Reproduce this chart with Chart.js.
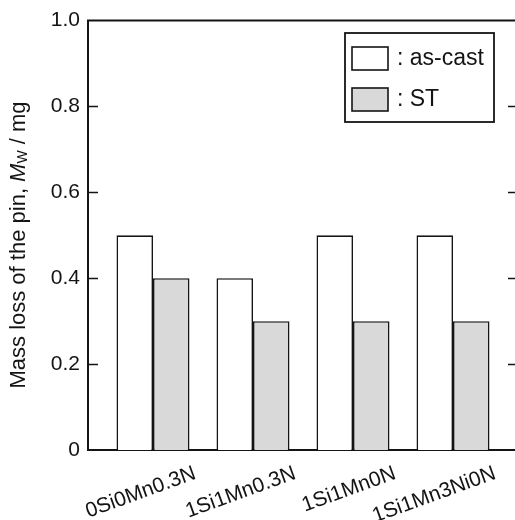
<!DOCTYPE html>
<html>
<head>
<meta charset="utf-8">
<script src="https://cdn.jsdelivr.net/npm/chart.js@4/dist/chart.umd.min.js"></script>
<style>
  html, body { margin: 0; padding: 0; background: #fff; overflow: hidden; }
  #wrap { width: 525px; height: 520px; }
</style>
</head>
<body>
<div id="wrap"><canvas id="chart" width="525" height="520"></canvas></div>
<script>
// data
const categories = ['0Si0Mn0.3N', '1Si1Mn0.3N', '1Si1Mn0N', '1Si1Mn3Ni0N'];
const asCast = [0.5, 0.4, 0.5, 0.5];
const st = [0.4, 0.3, 0.3, 0.3];
const yTicks = [0, 0.2, 0.4, 0.6, 0.8, 1.0];

const FONT = "'Liberation Sans', Arial, Helvetica, sans-serif";
const INK = '#141414';

const toPoints = arr => arr.map((v, i) => ({ x: i, y: v }));

// box round the plot (top + right) and inward ticks on both sides
const framePlugin = {
  id: 'frame',
  afterDraw(chart) {
    const { ctx, chartArea: a, scales } = chart;
    ctx.save();
    ctx.strokeStyle = INK;
    ctx.lineWidth = 2;
    ctx.beginPath();
    ctx.moveTo(a.left - 1, a.top);
    ctx.lineTo(a.right, a.top);
    ctx.lineTo(a.right, a.bottom);
    ctx.stroke();
    ctx.lineWidth = 1.6;
    yTicks.forEach(v => {
      if (v === 0 || v === 1) return;
      const y = Math.round(scales.y.getPixelForValue(v)) + 0.5;
      ctx.beginPath();
      ctx.moveTo(a.left, y);
      ctx.lineTo(a.left + 10, y);
      ctx.moveTo(a.right - 10, y);
      ctx.lineTo(a.right, y);
      ctx.stroke();
    });
    ctx.restore();
  }
};

// y title with italic M and subscript w
const yTitlePlugin = {
  id: 'ytitle',
  afterDraw(chart) {
    const { ctx } = chart;
    const size = 22;
    const parts = [
      { t: 'Mass loss of the pin, ', f: `${size}px ${FONT}`, dy: 0 },
      { t: 'M', f: `italic ${size}px ${FONT}`, dy: 0 },
      { t: 'W', f: `${Math.round(size * 0.62)}px ${FONT}`, dy: 4 },
      { t: ' / mg', f: `${size}px ${FONT}`, dy: 0 }
    ];
    ctx.save();
    let total = 0;
    parts.forEach(p => { ctx.font = p.f; p.w = ctx.measureText(p.t).width; total += p.w; });
    ctx.translate(19, 245);
    ctx.rotate(-Math.PI / 2);
    ctx.fillStyle = INK;
    ctx.textBaseline = 'middle';
    ctx.textAlign = 'left';
    let x = -total / 2;
    parts.forEach(p => {
      ctx.font = p.f;
      ctx.fillText(p.t, x, p.dy);
      x += p.w;
    });
    ctx.restore();
  }
};

// boxed legend inside the plot, top right
const legendPlugin = {
  id: 'boxlegend',
  afterDraw(chart) {
    const { ctx } = chart;
    const ds = chart.data.datasets;
    ctx.save();
    ctx.strokeStyle = INK;
    ctx.lineWidth = 1.8;
    ctx.fillStyle = '#fff';
    ctx.fillRect(345, 33, 149, 89);
    ctx.strokeRect(345, 33, 149, 89);
    ctx.font = `23px ${FONT}`;
    ctx.textBaseline = 'middle';
    ds.forEach((d, i) => {
      const top = 47 + i * 41;
      ctx.fillStyle = d.backgroundColor;
      ctx.fillRect(352, top, 36, 23);
      ctx.strokeStyle = INK;
      ctx.lineWidth = 1.6;
      ctx.strokeRect(352, top, 36, 23);
      ctx.fillStyle = INK;
      ctx.fillText(': ' + d.label, 397, top + 12);
    });
    ctx.restore();
  }
};

new Chart(document.getElementById('chart'), {
  type: 'bar',
  data: {
    datasets: [
      {
        label: 'as-cast',
        data: toPoints(asCast),
        backgroundColor: '#ffffff',
        borderColor: INK,
        borderWidth: 1.6
      },
      {
        label: 'ST',
        data: toPoints(st),
        backgroundColor: '#d9d9d9',
        borderColor: INK,
        borderWidth: 1.6
      }
    ]
  },
  options: {
    responsive: false,
    devicePixelRatio: 1,
    animation: false,
    layout: { padding: { top: 19, right: 7, bottom: 0, left: 0 } },
    datasets: { bar: { categoryPercentage: 0.73, barPercentage: 1 } },
    plugins: {
      legend: { display: false },
      tooltip: { enabled: false }
    },
    scales: {
      x: {
        type: 'linear',
        min: -0.65,
        max: 3.65,
        offset: false,
        grid: { display: false, drawTicks: false },
        border: { display: true, color: INK, width: 2 },
        afterBuildTicks: scale => { scale.ticks = categories.map((c, i) => ({ value: i })); },
        afterFit: scale => { scale.height = 70; },
        ticks: {
          autoSkip: false,
          minRotation: 20,
          maxRotation: 20,
          labelOffset: 42,
          padding: 11,
          color: INK,
          font: { family: FONT, size: 21 },
          callback: v => categories[v]
        }
      },
      y: {
        min: 0,
        max: 1,
        grid: { display: false, drawTicks: false },
        border: { display: true, color: INK, width: 2 },
        afterBuildTicks: scale => { scale.ticks = yTicks.map(v => ({ value: v })); },
        afterFit: scale => { scale.width = 88; },
        ticks: {
          padding: 8,
          color: INK,
          font: { family: FONT, size: 21 },
          callback: v => (v === 0 ? '0' : v.toFixed(1))
        }
      }
    }
  },
  plugins: [framePlugin, yTitlePlugin, legendPlugin]
});
</script>
</body>
</html>
